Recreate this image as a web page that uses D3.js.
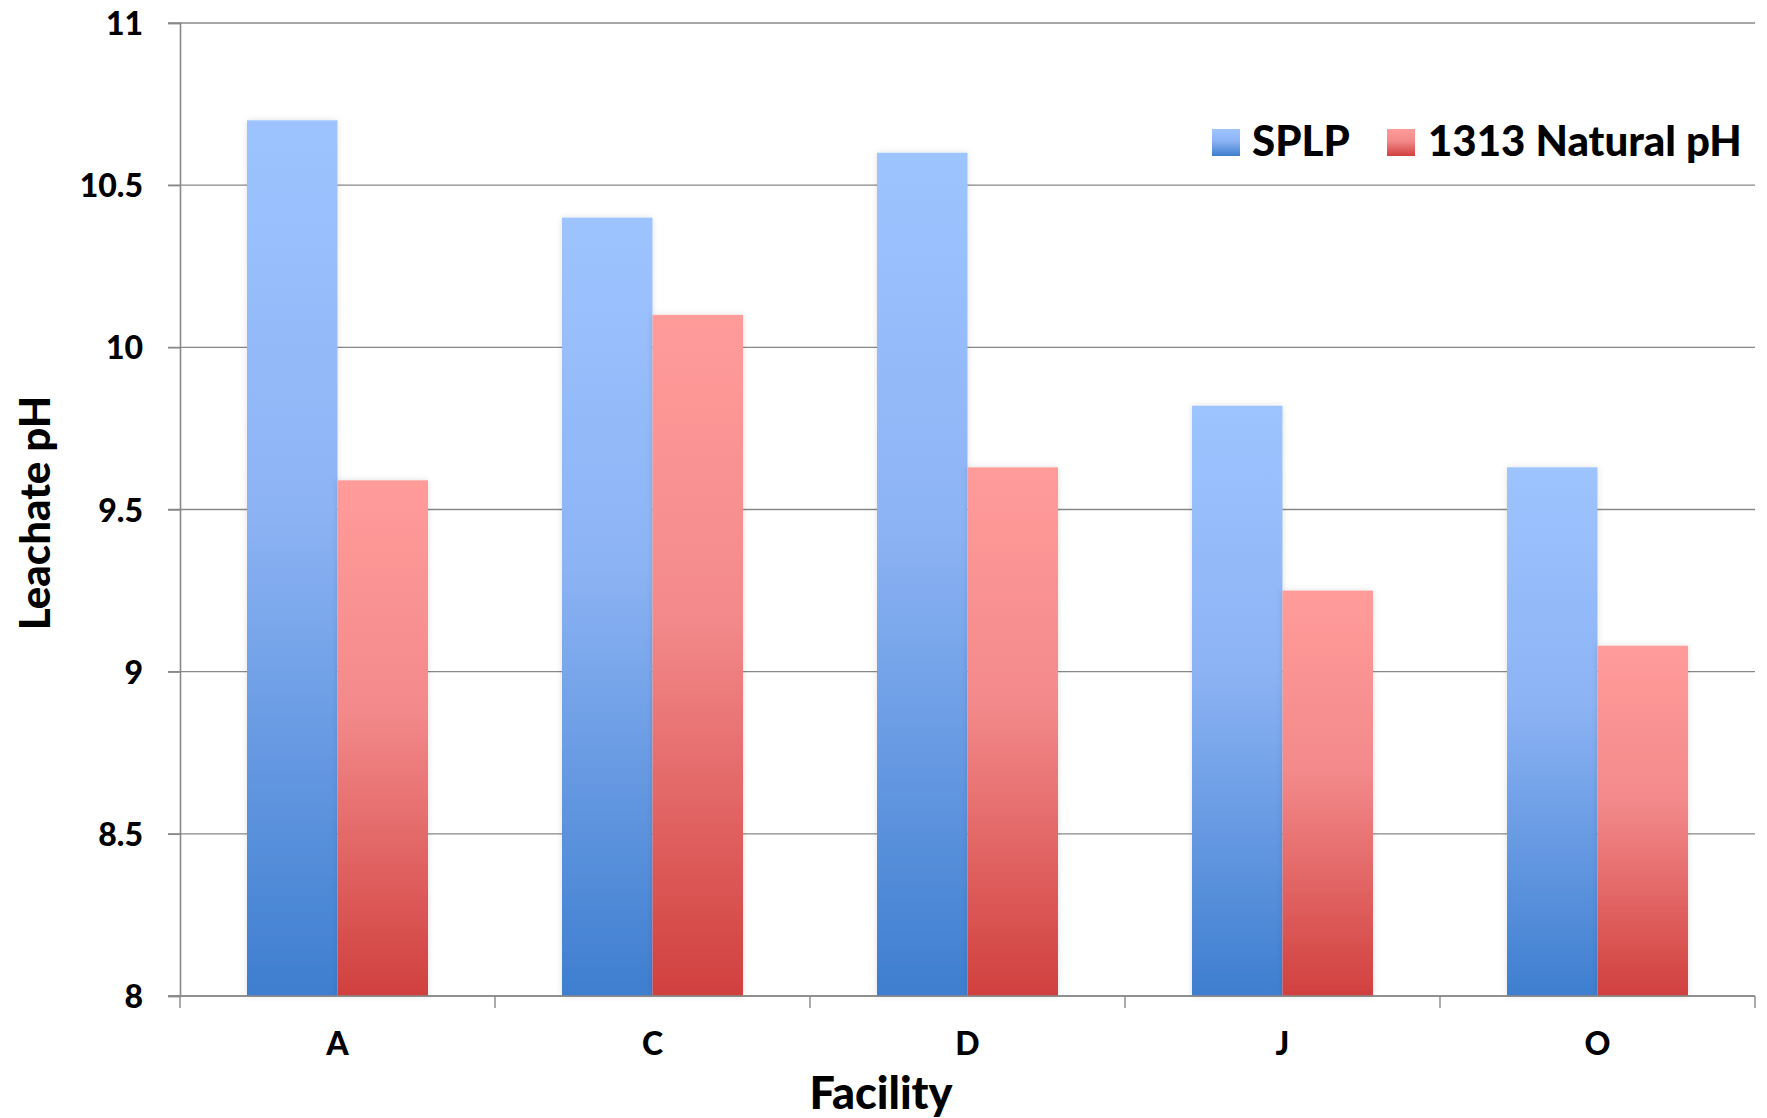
<!DOCTYPE html>
<html>
<head>
<meta charset="utf-8">
<script src="https://cdn.jsdelivr.net/npm/d3@7"></script>
<style>
  html, body { margin: 0; padding: 0; background: #fff; }
  svg { display: block; font-family: Lato, "Open Sans", sans-serif; font-weight: 900; }
</style>
</head>
<body>
<svg id="chart" width="1767" height="1118"></svg>
<script>
const categories = ["A", "C", "D", "J", "O"];
const seriesNames = ["SPLP", "1313 Natural pH"];
const splp = [10.70, 10.40, 10.60, 9.82, 9.63];
const natural = [9.59, 10.10, 9.63, 9.25, 9.08];
const yTicks = [8, 8.5, 9, 9.5, 10, 10.5, 11];
const yTickLabels = ["8", "8.5", "9", "9.5", "10", "10.5", "11"];
const seriesValues = [splp, natural];

const svg = d3.select("#chart");
const plotLeft = 180, plotRight = 1755, plotTop = 23, plotBottom = 996;

const x = d3.scaleBand().domain(categories).range([plotLeft, plotRight]).paddingInner(0.4254).paddingOuter(0.2127);
const xs = d3.scaleBand().domain(seriesNames).range([0, x.bandwidth()]);
const y = d3.scaleLinear().domain([8, 11]).range([plotBottom, plotTop]);

const defs = svg.append("defs");
const grads = [
  {id: "gBlue", stops: [["0%", "#9EC4FF"], ["45%", "#8CB3F4"], ["100%", "#3E7ECF"]]},
  {id: "gRed", stops: [["0%", "#FF9C9A"], ["45%", "#F3898A"], ["100%", "#D0403E"]]}
];
grads.forEach(g => {
  const lgr = defs.append("linearGradient").attr("id", g.id).attr("x1", 0).attr("y1", 0).attr("x2", 0).attr("y2", 1);
  g.stops.forEach(s => lgr.append("stop").attr("offset", s[0]).attr("stop-color", s[1]));
});
const f = defs.append("filter").attr("id", "shadow").attr("x", "-20%").attr("y", "-5%").attr("width", "140%").attr("height", "110%");
f.append("feDropShadow").attr("dx", 0).attr("dy", 0).attr("stdDeviation", 3).attr("flood-color", "#000").attr("flood-opacity", 0.12);

// gridlines
svg.append("g").selectAll("line").data(yTicks).join("line")
  .attr("x1", plotLeft - 12).attr("x2", plotRight)
  .attr("y1", d => y(d)).attr("y2", d => y(d))
  .attr("stroke", "#888").attr("stroke-width", 1.4);

// y axis
const yAxis = svg.append("g").attr("transform", `translate(${plotLeft},0)`)
  .call(d3.axisLeft(y).tickValues(yTicks).tickFormat((d, i) => yTickLabels[i]).tickSize(12).tickPadding(25));
yAxis.select(".domain").attr("stroke", "#888").attr("stroke-width", 1.6);
yAxis.selectAll(".tick line").attr("stroke", "#888").attr("stroke-width", 1.4);
yAxis.selectAll(".tick text").attr("font-size", 32).attr("font-family", "Lato, sans-serif")
  .attr("font-weight", 900).attr("fill", "#000").attr("dy", "0.36em");

// bars
const colors = ["url(#gBlue)", "url(#gRed)"];
const gBars = svg.append("g");
seriesNames.forEach((s, si) => {
  gBars.append("g").selectAll("rect").data(categories).join("rect")
    .attr("x", c => x(c) + xs(s))
    .attr("y", (c, i) => y(seriesValues[si][i]))
    .attr("width", xs.bandwidth())
    .attr("height", (c, i) => y(8) - y(seriesValues[si][i]))
    .attr("fill", colors[si])
    .attr("filter", "url(#shadow)");
});

// x axis
const xAxis = svg.append("g").attr("transform", `translate(0,${plotBottom})`)
  .call(d3.axisBottom(x).tickSize(0).tickPadding(0));
xAxis.select(".domain").remove();
xAxis.selectAll(".tick text").attr("font-size", 32).attr("font-family", "Lato, sans-serif")
  .attr("font-weight", 900).attr("fill", "#000").attr("y", 59).attr("dy", 0);
svg.append("line").attr("x1", plotLeft - 12).attr("x2", plotRight).attr("y1", plotBottom).attr("y2", plotBottom)
  .attr("stroke", "#888").attr("stroke-width", 1.6);
const boundaries = d3.range(categories.length + 1).map(i => plotLeft + i * x.step());
svg.append("g").selectAll("line").data(boundaries).join("line")
  .attr("x1", d => d).attr("x2", d => d).attr("y1", plotBottom).attr("y2", plotBottom + 12)
  .attr("stroke", "#888").attr("stroke-width", 1.4);

// axis titles
svg.append("text").attr("x", 881).attr("y", 1109).attr("text-anchor", "middle")
  .attr("font-size", 45).attr("fill", "#000").text("Facility");
svg.append("text").attr("transform", `translate(50,513) rotate(-90)`).attr("text-anchor", "middle")
  .attr("font-size", 42).attr("fill", "#000").text("Leachate pH");

// legend
const legendItems = [
  {name: seriesNames[0], fill: colors[0], sx: 1212, tx: 1252},
  {name: seriesNames[1], fill: colors[1], sx: 1387, tx: 1428}
];
const lg = svg.append("g");
legendItems.forEach(it => {
  lg.append("rect").attr("x", it.sx).attr("y", 129).attr("width", 28).attr("height", 27).attr("fill", it.fill);
  lg.append("text").attr("x", it.tx).attr("y", 156).attr("font-size", 42).attr("fill", "#000").text(it.name);
});
</script>
</body>
</html>
